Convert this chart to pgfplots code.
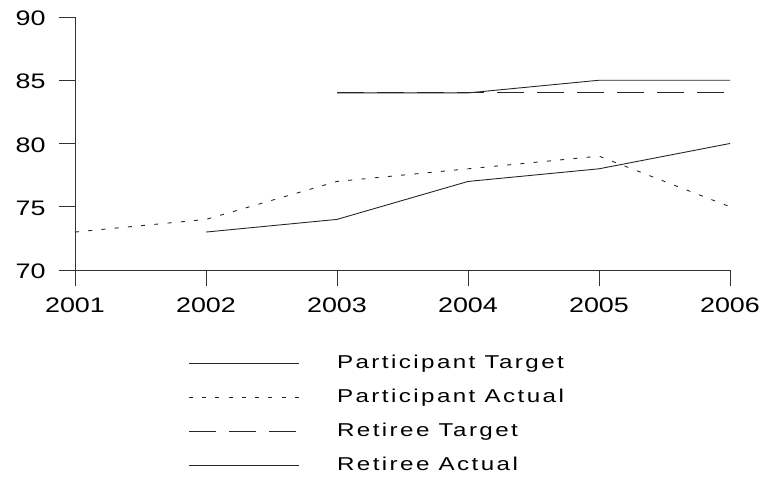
\documentclass[border=0pt]{standalone}
\usepackage{fontspec}
\setmainfont{Liberation Sans}
\newfontfamily\tickfont{Liberation Sans}[FakeStretch=1.28]
\newfontfamily\legfont{Liberation Sans}[FakeStretch=1.3,LetterSpace=13]
\usepackage{pgfplots}
\pgfplotsset{compat=1.18}
\begin{document}
\begin{tikzpicture}
\path[use as bounding box] (0,0) rectangle (778bp,479bp);
\begin{axis}[
  at={(75bp,209bp)}, anchor=south west,
  scale only axis, width=655bp, height=253bp,
  xmin=2001, xmax=2006, ymin=70, ymax=90,
  xtick={2001,2002,2003,2004,2005,2006},
  ytick={70,75,80,85,90},
  axis x line*=bottom, axis y line*=left,
  xtick pos=bottom, ytick pos=left,
  tick align=outside, major tick length=16bp,
  axis line style={black!80, line width=0.9bp},
  tick style={black!80, line width=0.9bp},
  /pgf/number format/assume math mode=true,
  /pgf/number format/1000 sep={},
  ticklabel style={font=\tickfont\fontsize{21bp}{24bp}\selectfont},
  xticklabel style={yshift=-8bp},
  yticklabel style={xshift=-10bp, yshift=-1.5bp},
  clip=false,
  legend cell align=left,
  legend image code/.code={\draw[#1] (0bp,0bp) -- (110bp,0bp); \path (148bp,0bp);},
  legend style={at={(0.1725,-0.332)}, anchor=north west, draw=none, fill=none,
    inner sep=0pt, row sep=16bp,
    nodes={inner sep=0pt, text height=14bp, text depth=4bp,
      font=\legfont\fontsize{18.6bp}{22bp}\selectfont}},
]
\addplot[black!85, line width=0.9bp, mark=none, solid] coordinates {(2002,73) (2003,74) (2004,77) (2005,78) (2006,80)};
\addlegendentry{Participant Target}
\addplot[black!85, line width=0.9bp, mark=none, dash pattern=on 4bp off 9.3bp] coordinates {(2001,73) (2002,74) (2003,77) (2004,78) (2005,79) (2006,75)};
\addlegendentry{Participant Actual}
\addplot[black!85, line width=0.9bp, mark=none, dash pattern=on 27bp off 13bp] coordinates {(2003,84) (2004,84) (2005,84) (2006,84)};
\addlegendentry{Retiree Target}
\addplot[black!85, line width=0.9bp, mark=none, solid] coordinates {(2003,84) (2004,84) (2005,85) (2006,85)};
\addlegendentry{Retiree Actual}
\end{axis}
\end{tikzpicture}
\end{document}
